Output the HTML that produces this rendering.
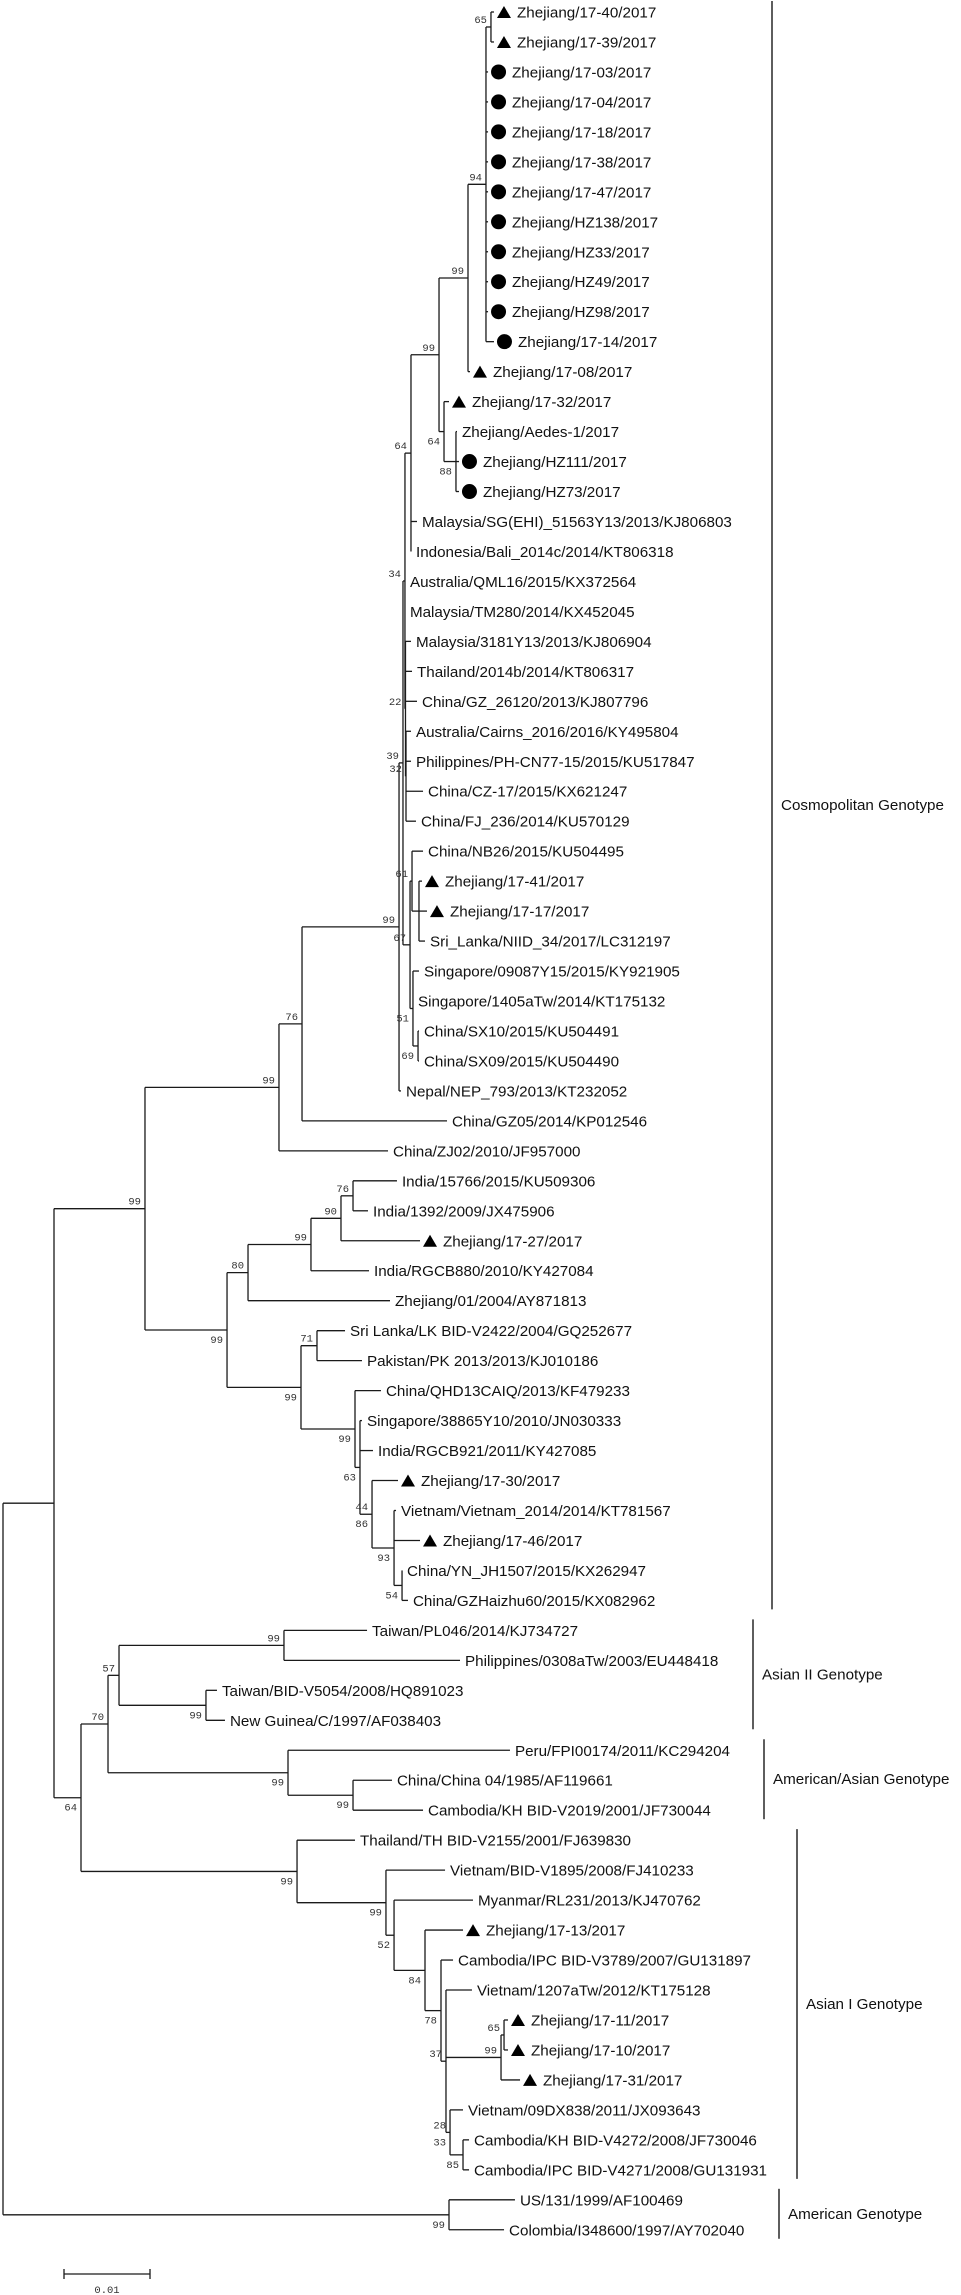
<!DOCTYPE html>
<html><head><meta charset="utf-8"><style>
html,body{margin:0;padding:0;background:#fff;}
svg{display:block;}
.lf{font-family:"Liberation Sans",sans-serif;font-size:15.2px;fill:#111;}
.bs{font-family:"Liberation Mono",monospace;font-size:10.5px;fill:#333;}
.gl{font-family:"Liberation Sans",sans-serif;font-size:15.2px;fill:#111;}
</style></head>
<body>
<svg id="tree" width="961" height="2295" viewBox="0 0 961 2295" xmlns="http://www.w3.org/2000/svg"></svg>
<script>
// leaf data
const leafNames = ["Zhejiang/17-40/2017","Zhejiang/17-39/2017","Zhejiang/17-03/2017","Zhejiang/17-04/2017","Zhejiang/17-18/2017","Zhejiang/17-38/2017","Zhejiang/17-47/2017","Zhejiang/HZ138/2017","Zhejiang/HZ33/2017","Zhejiang/HZ49/2017","Zhejiang/HZ98/2017","Zhejiang/17-14/2017","Zhejiang/17-08/2017","Zhejiang/17-32/2017","Zhejiang/Aedes-1/2017","Zhejiang/HZ111/2017","Zhejiang/HZ73/2017","Malaysia/SG(EHI)_51563Y13/2013/KJ806803","Indonesia/Bali_2014c/2014/KT806318","Australia/QML16/2015/KX372564","Malaysia/TM280/2014/KX452045","Malaysia/3181Y13/2013/KJ806904","Thailand/2014b/2014/KT806317","China/GZ_26120/2013/KJ807796","Australia/Cairns_2016/2016/KY495804","Philippines/PH-CN77-15/2015/KU517847","China/CZ-17/2015/KX621247","China/FJ_236/2014/KU570129","China/NB26/2015/KU504495","Zhejiang/17-41/2017","Zhejiang/17-17/2017","Sri_Lanka/NIID_34/2017/LC312197","Singapore/09087Y15/2015/KY921905","Singapore/1405aTw/2014/KT175132","China/SX10/2015/KU504491","China/SX09/2015/KU504490","Nepal/NEP_793/2013/KT232052","China/GZ05/2014/KP012546","China/ZJ02/2010/JF957000","India/15766/2015/KU509306","India/1392/2009/JX475906","Zhejiang/17-27/2017","India/RGCB880/2010/KY427084","Zhejiang/01/2004/AY871813","Sri Lanka/LK BID-V2422/2004/GQ252677","Pakistan/PK 2013/2013/KJ010186","China/QHD13CAIQ/2013/KF479233","Singapore/38865Y10/2010/JN030333","India/RGCB921/2011/KY427085","Zhejiang/17-30/2017","Vietnam/Vietnam_2014/2014/KT781567","Zhejiang/17-46/2017","China/YN_JH1507/2015/KX262947","China/GZHaizhu60/2015/KX082962","Taiwan/PL046/2014/KJ734727","Philippines/0308aTw/2003/EU448418","Taiwan/BID-V5054/2008/HQ891023","New Guinea/C/1997/AF038403","Peru/FPI00174/2011/KC294204","China/China 04/1985/AF119661","Cambodia/KH BID-V2019/2001/JF730044","Thailand/TH BID-V2155/2001/FJ639830","Vietnam/BID-V1895/2008/FJ410233","Myanmar/RL231/2013/KJ470762","Zhejiang/17-13/2017","Cambodia/IPC BID-V3789/2007/GU131897","Vietnam/1207aTw/2012/KT175128","Zhejiang/17-11/2017","Zhejiang/17-10/2017","Zhejiang/17-31/2017","Vietnam/09DX838/2011/JX093643","Cambodia/KH BID-V4272/2008/JF730046","Cambodia/IPC BID-V4271/2008/GU131931","US/131/1999/AF100469","Colombia/I348600/1997/AY702040"];
const leafMarkers = ["t","t","c","c","c","c","c","c","c","c","c","c","t","t","","c","c","","","","","","","","","","","","","t","t","","","","","","","","","","","t","","","","","","","","t","","t","","","","","","","","","","","","","t","","","t","t","t","","","","",""];
// branch-tip distances (units of 0.001 substitutions/site)
const leafDist = [57.09,57.09,56.40,56.40,56.40,56.40,56.40,56.40,56.40,56.40,56.40,57.09,54.30,51.86,52.79,53.02,53.02,48.14,47.44,46.74,46.74,47.44,47.56,48.14,47.44,47.44,48.84,48.02,48.84,48.72,49.30,49.07,48.37,47.67,48.37,48.37,46.28,51.63,44.77,45.81,42.44,48.49,42.56,45.00,39.77,41.74,43.95,41.74,43.02,45.93,45.70,48.49,46.40,47.09,42.33,53.14,24.88,25.81,58.95,45.23,48.84,40.93,51.40,54.65,53.49,52.33,54.53,58.72,58.72,60.12,53.49,54.19,54.19,59.53,58.26];
// tree topology: node distance d (0.001 units), bootstrap labels, children (ints = leaf indices)
const N = (d, lab, ch) => ({d: d, lab: lab, ch: ch});
const cladeZ = N(54.07,[["99","a"]],[N(56.16,[["94","a"]],[N(56.74,[["65","a"]],[0,1]),2,3,4,5,6,7,8,9,10,11]),12]);
const cladeA = N(51.28,[["64","b"]],[13,N(52.67,[["88","b"]],[14,15,16])]);
const n64o = N(47.44,[["64","a"]],[N(50.70,[["99","a"]],[cladeZ,cladeA]),17,18]);
const nK34 = N(46.74,[["34","a"]],[n64o,19,20,N(46.80,[["22","a"]],[21,22,23,N(46.86,[["32","a"]],[24,25,26,27])])]);
const n67 = N(47.33,[["67","a"]],[N(47.56,[["61","a"]],[28,N(48.37,[],[29,30,31])]),N(47.67,[["51","b"]],[32,33,N(48.26,[["69","b"]],[34,35])])]);
const cosmo = N(32.09,[["99","a"]],[N(34.77,[["76","a"]],[N(46.05,[["99","a"]],[N(46.51,[["39","a"]],[nK34,n67]),36]),37]),38]);
const india = N(28.49,[["80","a"]],[N(35.81,[["99","a"]],[N(39.30,[["90","a"]],[N(40.70,[["76","a"]],[39,40]),41]),42]),43]);
const n93 = N(45.47,[["93","b"]],[50,51,N(46.40,[["54","b"]],[52,53])]);
const lowerC = N(34.65,[["99","b"]],[N(36.51,[["71","a"]],[44,45]),N(40.93,[["99","b"]],[46,N(41.51,[["63","b"]],[47,48,N(42.91,[["86","b"],["44","a"]],[49,n93])])])]);
const n145 = N(16.51,[["99","a"]],[cosmo,N(26.05,[["99","b"]],[india,lowerC])]);
const asian2 = N(13.49,[["57","a"]],[N(32.67,[["99","a"]],[54,55]),N(23.60,[["99","b"]],[56,57])]);
const amAs = N(33.14,[["99","b"]],[58,N(40.70,[["99","b"]],[59,60])]);
const n37 = N(51.51,[["37","a"]],[66,N(57.91,[["99","a"]],[N(58.26,[["65","a"]],[67,68]),69]),N(51.98,[["28","a"],["33","b"]],[70,N(53.49,[["85","b"]],[71,72])])]);
const asian1 = N(34.19,[["99","b"]],[61,N(44.53,[["99","b"]],[62,N(45.47,[["52","b"]],[63,N(49.07,[["84","b"]],[64,N(50.93,[["78","b"]],[65,n37])])])])]);
const root = N(0,[],[N(5.93,[],[n145,N(9.07,[["64","b"]],[N(12.21,[["70","a"]],[asian2,amAs]),asian1])]),N(51.86,[["99","b"]],[73,74])]);
// genotype groups: [name, first leaf, last leaf]
const groupNames = ["Cosmopolitan Genotype","Asian II Genotype","American/Asian Genotype","Asian I Genotype","American Genotype"];
const groupFirst = [0,54,58,61,73];
const groupLast = [53,57,60,72,74];
const scaleValue = 0.01;

const NS = "http://www.w3.org/2000/svg";
const svg = document.getElementById("tree");
const xScale = d => 3 + d * 8.6;
const yLeaf = i => 12 + i * 29.97;
function mk(tag, attrs, parent){
  const e = document.createElementNS(NS, tag);
  for (const k in attrs) e.setAttribute(k, attrs[k]);
  (parent || svg).appendChild(e);
  return e;
}
const branches = mk("g", {stroke:"#1a1a1a","stroke-width":"1.3",fill:"none"});


const labelsG = mk("g", {});


const leavesG = mk("g", {});



function drawLeaf(i){
  const y = yLeaf(i), xe = xScale(leafDist[i]);
  const g = mk("g", {}, leavesG);
  
  
  let tx = xe + 5;
  const m = leafMarkers[i];
  if (m === "t") {
    const mx = xe + 3;
    const p = mk("polygon", {points:`${mx},${y+6} ${mx+14},${y+6} ${mx+7},${y-6}`, fill:"#000"}, g);
    
    
    tx = mx + 20;
  } else if (m === "c") {
    const mx = xe + 3;
    const c = mk("circle", {cx: mx+7.5, cy: y, r: 7.5, fill:"#000"}, g);
    
    
    tx = mx + 21;
  }
  const t = mk("text", {x: tx, y: y + 5.5, class:"lf"}, g);
  t.textContent = leafNames[i];
  return y;
}
function layout(node){
  if (typeof node === "number") return {y: drawLeaf(node), x: xScale(leafDist[node])};
  const x = xScale(node.d);
  const kids = node.ch.map(layout);
  const y0 = kids[0].y, y1 = kids[kids.length-1].y;
  const y = (y0 + y1) / 2;
  const v = mk("line", {x1:x, y1:y0, x2:x, y2:y1}, branches);
  
  
  kids.forEach(k => {
    const h = mk("line", {x1:x, y1:k.y, x2:k.x, y2:k.y}, branches);
    
    
  });
  node.lab.forEach(l => {
    const t = mk("text", {x: x - 4, y: l[1] === "a" ? y - 4 : y + 13, "text-anchor":"end", class:"bs"}, labelsG);
    
    
    t.textContent = l[0];
  });
  return {x: x, y: y};
}
layout(root);

// genotype brackets
const barX = [772, 753, 764, 797, 779];
groupNames.forEach((name, gi) => {
  const ya = yLeaf(groupFirst[gi]) - 11, yb = yLeaf(groupLast[gi]) + 9;
  const g = mk("g", {});
  
  
  mk("line", {x1: barX[gi], y1: ya, x2: barX[gi], y2: yb, stroke:"#1a1a1a","stroke-width":"1.4"}, g);
  const t = mk("text", {x: barX[gi] + 9, y: (ya + yb) / 2 + 5, class:"gl"}, g);
  t.textContent = name;
});

// scale bar
const sb = mk("g", {stroke:"#1a1a1a","stroke-width":"1.3"});


const sx0 = 64, sx1 = sx0 + scaleValue * 1000 * 8.6, sy = 2274;
mk("line", {x1:sx0, y1:sy, x2:sx1, y2:sy}, sb);
mk("line", {x1:sx0, y1:sy-5, x2:sx0, y2:sy+5}, sb);
mk("line", {x1:sx1, y1:sy-5, x2:sx1, y2:sy+5}, sb);
const st = mk("text", {x:(sx0+sx1)/2, y:2293, "text-anchor":"middle", class:"bs"});


st.textContent = String(scaleValue);
</script>
</body></html>
